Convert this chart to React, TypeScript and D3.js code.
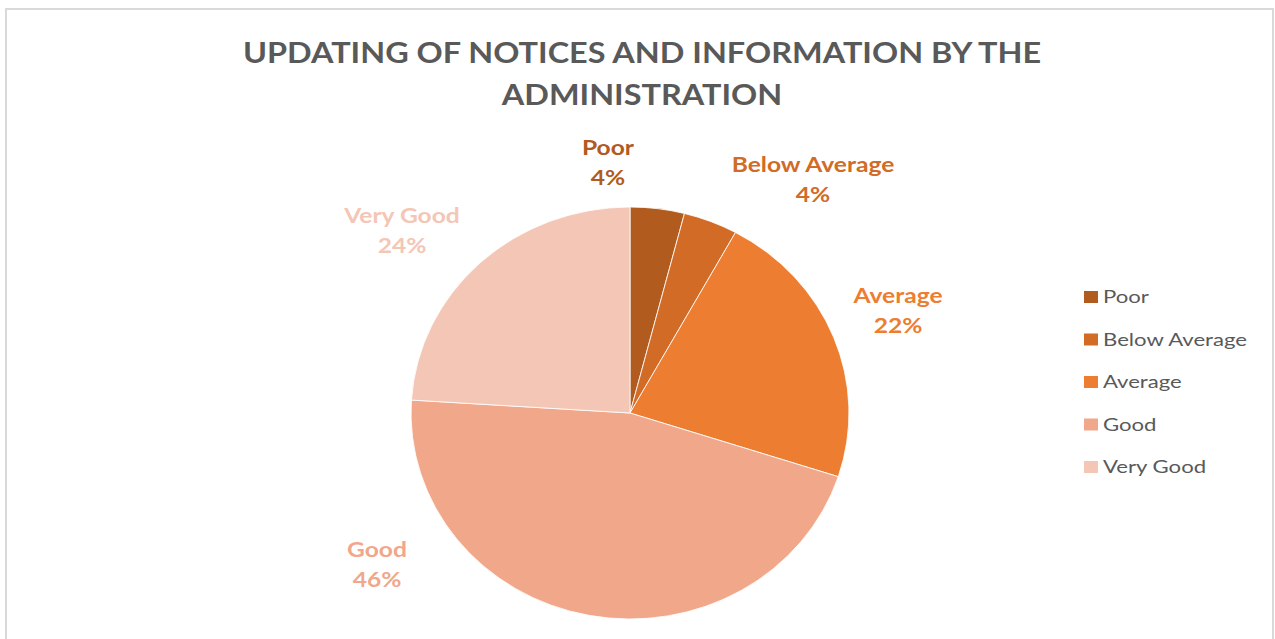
import React from "react";
import * as d3 from "d3";

const categories = ["Poor", "Below Average", "Average", "Good", "Very Good"];
const values = [4, 4, 22, 46, 24];
const colors = ["#B15B1F", "#D26B26", "#ED7D31", "#F0A78A", "#F4C6B6"];
const titleLines = ["UPDATING OF NOTICES AND INFORMATION BY THE", "ADMINISTRATION"];

// label layout: offsets of label centre (first baseline) from pie centre
const labelOffsets: [number, number][] = [
  [-22, -258],
  [183, -241],
  [268, -110],
  [-253, 144],
  [-228, -190],
];

const W = 1275;
const H = 639;
const cx = 630;
const cy = 413;
const R = 206;
const sx = 1.063;
const FONT = "Lato, 'Open Sans', sans-serif";

export default function App() {
  const data = categories.map((c, i) => ({ c, v: values[i], color: colors[i] }));
  const pie = d3.pie<any>().value((d) => d.v).sort(null);
  const arcs = pie(data);
  const arc = d3.arc<any>().innerRadius(0).outerRadius(R);
  const total = d3.sum(values);
  const fmt = (v: number) => `${Math.round((v / total) * 100)}%`;

  const legendY = d3.scalePoint<string>().domain(categories).range([297, 467]);

  return (
    <svg
      width={W}
      height={H}
      style={{ position: "absolute", left: 0, top: 0, background: "#fff" }}
    >
      <rect x={6} y={9} width={1267} height={H} fill="#fff" stroke="#D9D9D9" strokeWidth={2} />
      <g fontFamily={FONT} fontWeight="bold" fill="#595959" fontSize={28} textAnchor="middle">
        {titleLines.map((t, i) => (
          <text key={i} transform={`translate(642,${63 + i * 42}) scale(1.158,1)`}>
            {t}
          </text>
        ))}
      </g>
      <g transform={`translate(${cx},${cy}) scale(${sx},1)`}>
        {arcs.map((a, i) => (
          <path key={i} d={arc(a) || ""} fill={a.data.color} stroke="#fff" strokeWidth={0.8} />
        ))}
      </g>
      <g fontFamily={FONT} fontWeight="bold" fontSize={20} textAnchor="middle">
        {arcs.map((a, i) => {
          const [dx, dy] = labelOffsets[i];
          return (
            <text
              key={i}
              transform={`translate(${cx + dx},${cy + dy}) scale(1.23,1)`}
              fill={a.data.color}
            >
              <tspan x={0}>{a.data.c}</tspan>
              <tspan x={0} dy={30}>
                {fmt(a.data.v)}
              </tspan>
            </text>
          );
        })}
      </g>
      <g fontFamily={FONT} fontSize={18} fill="#595959">
        {data.map((d, i) => (
          <g key={i} transform={`translate(1084,${legendY(d.c)})`}>
            <rect x={0} y={-6} width={14} height={12} fill={d.color} />
            <text transform="translate(19,0) scale(1.23,1)" dy="0.35em">
              {d.c}
            </text>
          </g>
        ))}
      </g>
    </svg>
  );
}
